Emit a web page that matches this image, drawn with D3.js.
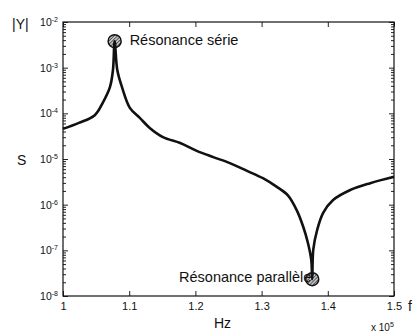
<!DOCTYPE html>
<html><head><meta charset="utf-8">
<script src="https://cdn.jsdelivr.net/npm/d3@7"></script>
<style>
html,body{margin:0;padding:0;background:#fff;}
svg{display:block;font-family:"Liberation Sans",Arial,sans-serif;}
</style></head>
<body><svg id="chart" width="419" height="336"></svg>
<script>
// frequency in Hz
const freq = [100000,102400,104800,106000,107100,107550,107800,108200,108900,110100,111600,113100,115100,117700,120200,122700,125200,127800,130200,132300,134000,135300,136300,137000,137500,137650,137800,138400,139300,140800,143400,146400,150000];
// admittance magnitude |Y| in S
const admittance = [4.57e-5,6.17e-5,9.12e-5,1.70e-4,3.80e-4,8.91e-4,3.80e-3,8.91e-4,3.80e-4,1.32e-4,7.94e-5,4.79e-5,3.02e-5,2.24e-5,1.51e-5,1.10e-5,8.13e-6,5.50e-6,3.80e-6,2.45e-6,1.58e-6,7.59e-7,3.24e-7,1.45e-7,6.17e-8,2.34e-8,1.02e-7,2.82e-7,6.61e-7,1.26e-6,2.09e-6,2.95e-6,4.07e-6];
const xTicks = [100000,110000,120000,130000,140000,150000];
const xTickLabels = ["1","1.1","1.2","1.3","1.4","1.5"];
const yExponents = [-8,-7,-6,-5,-4,-3,-2];
const annotations = [
  {label:"Résonance série", index:6},
  {label:"Résonance parallèle", index:25}
];

const svg = d3.select("#chart");
const L=63, R=394, T=22, B=296;
const x = d3.scaleLinear().domain([100000,150000]).range([L,R]);
const y = d3.scaleLog().domain([1e-8,1e-2]).range([B,T]);

const defs = svg.append("defs");
const pat = defs.append("pattern").attr("id","hatch").attr("patternUnits","userSpaceOnUse")
  .attr("width",2.4).attr("height",2.4).attr("patternTransform","rotate(45)");
pat.append("rect").attr("width",2.4).attr("height",2.4).attr("fill","#c4c4c4");
pat.append("line").attr("x1",0).attr("y1",0).attr("x2",0).attr("y2",2.4).attr("stroke","#111").attr("stroke-width",1.1);

const yMajor = yExponents.map(e=>Math.pow(10,e));
const yMinor = [];
yExponents.slice(0,-1).forEach(e=>{ for(let k=2;k<=9;k++) yMinor.push(k*Math.pow(10,e)); });

// axes
const gl = svg.append("g").attr("transform",`translate(${L},0)`)
  .call(d3.axisLeft(y).tickValues(yMajor).tickSizeInner(-5).tickSizeOuter(0).tickPadding(5).tickFormat(()=>"10"));
gl.selectAll(".tick text").attr("font-size",10.5).attr("font-family","Liberation Sans, Arial, sans-serif").attr("fill","#111")
  .each(function(d){ d3.select(this).append("tspan").attr("dy","-0.55em").attr("font-size",7).text(Math.round(Math.log10(d))); });
svg.append("g").attr("transform",`translate(${L},0)`)
  .call(d3.axisLeft(y).tickValues(yMinor).tickSizeInner(-3).tickSizeOuter(0).tickFormat(""));
svg.append("g").attr("transform",`translate(${R},0)`)
  .call(d3.axisRight(y).tickValues(yMajor).tickSizeInner(-5).tickSizeOuter(0).tickFormat(""));
svg.append("g").attr("transform",`translate(${R},0)`)
  .call(d3.axisRight(y).tickValues(yMinor).tickSizeInner(-3).tickSizeOuter(0).tickFormat(""));
const gb = svg.append("g").attr("transform",`translate(0,${B})`)
  .call(d3.axisBottom(x).tickValues(xTicks).tickSizeInner(-5).tickSizeOuter(0).tickPadding(6).tickFormat((d,i)=>xTickLabels[i]));
gb.selectAll(".tick text").attr("font-size",11).attr("font-family","Liberation Sans, Arial, sans-serif").attr("fill","#111");
svg.append("g").attr("transform",`translate(0,${T})`)
  .call(d3.axisTop(x).tickValues(xTicks).tickSizeInner(-5).tickSizeOuter(0).tickFormat(""));
svg.selectAll(".domain").remove();
svg.selectAll(".tick line").attr("stroke","#222").attr("stroke-width",1);
svg.append("rect").attr("x",L).attr("y",T).attr("width",R-L).attr("height",B-T)
  .attr("fill","none").attr("stroke","#111").attr("stroke-width",1.2);

// circles
svg.selectAll("circle.res").data(annotations).enter().append("circle").attr("class","res")
  .attr("cx",d=>x(freq[d.index])).attr("cy",d=>y(admittance[d.index]))
  .attr("r",6.5).attr("fill","url(#hatch)").attr("stroke","#111").attr("stroke-width",1.5);

// curve
const line = d3.line().x((d,i)=>x(freq[i])).y(d=>y(d)).curve(d3.curveCatmullRom.alpha(0.5));
svg.append("path").datum(admittance).attr("d",line).attr("fill","none")
  .attr("stroke","#111").attr("stroke-width",2.6).attr("stroke-linejoin","round");

// annotations text
svg.append("text").attr("x",x(freq[annotations[0].index])+15).attr("y",y(admittance[annotations[0].index])+4)
  .attr("font-size",14.5).attr("fill","#111").text(annotations[0].label);
svg.append("text").attr("x",x(freq[annotations[1].index])-1).attr("y",y(admittance[annotations[1].index])+3)
  .attr("text-anchor","end").attr("font-size",14.5).attr("fill","#111").text(annotations[1].label);

// axis labels
svg.append("text").attr("x",12).attr("y",29).attr("font-size",14).attr("fill","#111").text("|Y|");
svg.append("text").attr("x",17).attr("y",165).attr("font-size",14).attr("fill","#111").text("S");
svg.append("text").attr("x",214).attr("y",328).attr("font-size",14).attr("fill","#111").text("Hz");
svg.append("text").attr("x",408).attr("y",311).attr("font-size",14).attr("fill","#111").text("f");
const ex = svg.append("text").attr("x",371).attr("y",331).attr("font-size",10).attr("fill","#111").text("x 10");
ex.append("tspan").attr("dy","-0.6em").attr("font-size",7).text("5");
</script></body></html>
